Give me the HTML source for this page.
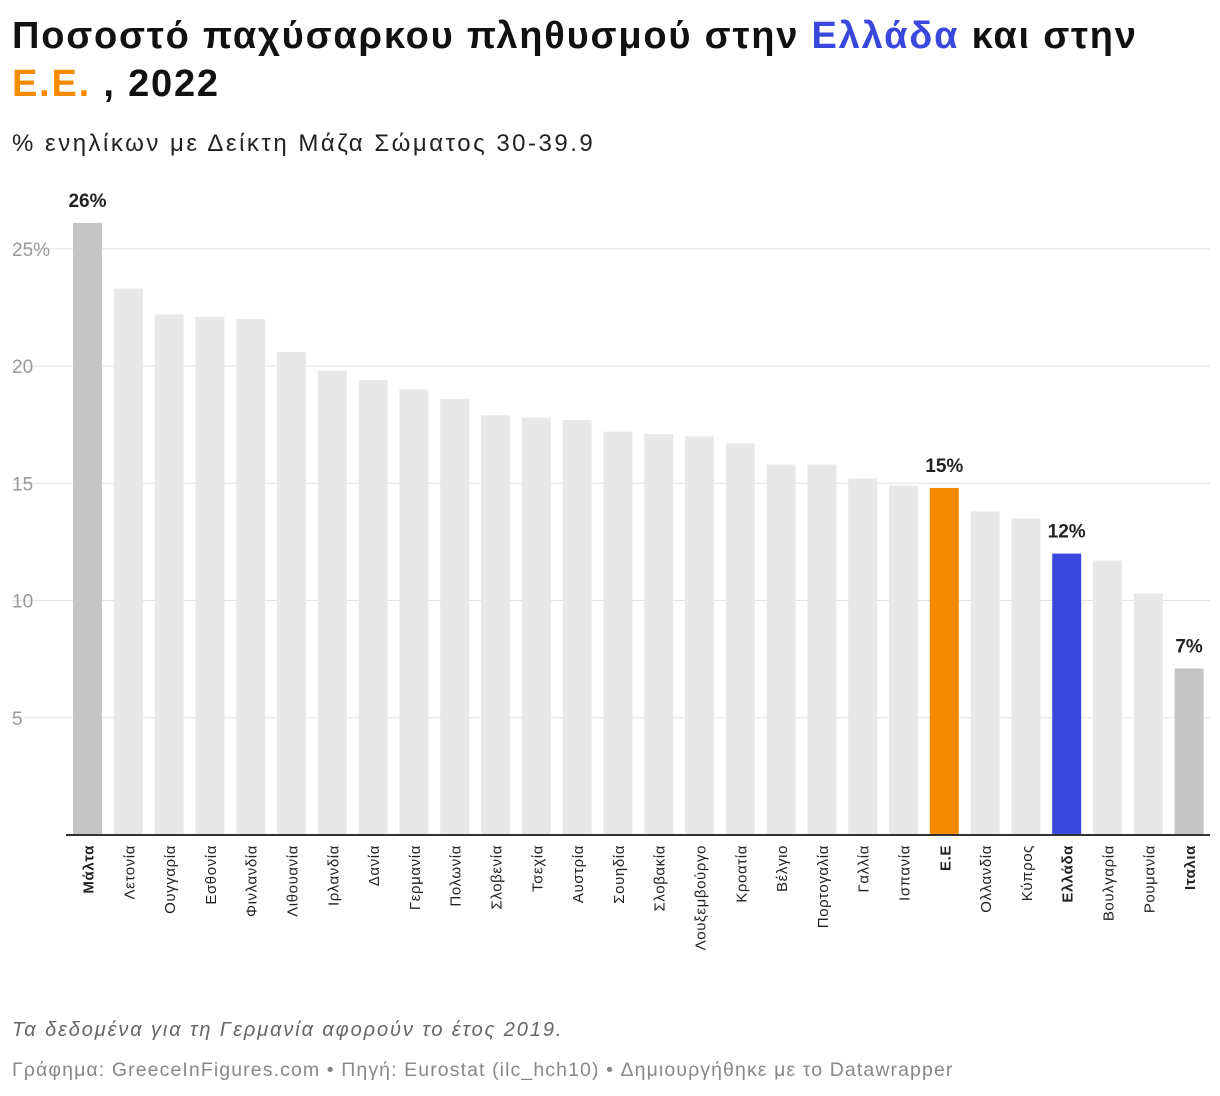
<!DOCTYPE html>
<html><head><meta charset="utf-8"><style>
body{margin:0;background:#fff;font-family:"Liberation Sans",sans-serif;}
.t{position:absolute;left:12px;top:12px;font-size:38px;font-weight:bold;line-height:48px;color:#111;width:1210px;letter-spacing:1.8px;white-space:nowrap}
.s{position:absolute;left:12px;top:130px;font-size:24px;color:#222;letter-spacing:2.5px}
.n{position:absolute;left:12px;top:1019px;font-size:20px;font-style:italic;color:#666;letter-spacing:1.9px}
.f{position:absolute;left:12px;top:1059px;font-size:19.5px;color:#888;letter-spacing:1.1px}
</style></head><body>
<div class="t">Ποσοστό παχύσαρκου πληθυσμού στην <span style="color:#3a47dc">Ελλάδα</span> και στην<br><span style="color:#f68b00">Ε.Ε.</span> , 2022</div>
<div class="s">% ενηλίκων με Δείκτη Μάζα Σώματος 30-39.9</div>
<svg id="c" width="1220" height="1096" style="position:absolute;left:0;top:0"></svg>
<div class="n">Τα δεδομένα για τη Γερμανία αφορούν το έτος 2019.</div>
<div class="f">Γράφημα: GreeceInFigures.com • Πηγή: Eurostat (ilc_hch10) • Δημιουργήθηκε με το Datawrapper</div>
<script>
const categories=["Μάλτα","Λετονία","Ουγγαρία","Εσθονία","Φινλανδία","Λιθουανία","Ιρλανδία","Δανία","Γερμανία","Πολωνία","Σλοβενία","Τσεχία","Αυστρία","Σουηδία","Σλοβακία","Λουξεμβούργο","Κροατία","Βέλγιο","Πορτογαλία","Γαλλία","Ισπανία","Ε.Ε","Ολλανδία","Κύπρος","Ελλάδα","Βουλγαρία","Ρουμανία","Ιταλια"];
const values=[26.1,23.3,22.2,22.1,22.0,20.6,19.8,19.4,19.0,18.6,17.9,17.8,17.7,17.2,17.1,17.0,16.7,15.8,15.8,15.2,14.9,14.8,13.8,13.5,12.0,11.7,10.3,7.1];
const yTicks=[5,10,15,20,25];
const yTickLabels=["5","10","15","20","25%"];
const highlight={"Μάλτα":"#c4c4c4","Ιταλια":"#c4c4c4","Ε.Ε":"#f68b00","Ελλάδα":"#3a47dc"};
const labelled={"Μάλτα":"26%","Ε.Ε":"15%","Ελλάδα":"12%","Ιταλια":"7%"};
const svg=document.getElementById('c');const NS="http://www.w3.org/2000/svg";
const y0=835,ppu=23.45,x0=73,pitch=40.8,bw=29;
const y=v=>y0-v*ppu, x=i=>x0+i*pitch;
function mk(t,a){const e=document.createElementNS(NS,t);for(const k in a)e.setAttribute(k,a[k]);svg.appendChild(e);return e;}
yTicks.forEach((t,i)=>{
 const l=mk('line',{x1:12,x2:1210,y1:y(t),y2:y(t),stroke:'#e2e2e2'});
 
 
 const tx=mk('text',{x:12,y:y(t)+7,'font-size':19,fill:'#999'});tx.textContent=yTickLabels[i];
 
 
});
categories.forEach((c,i)=>{
 const b=mk('rect',{x:x(i),y:y(values[i]),width:bw,height:values[i]*ppu,fill:highlight[c]||'#e8e8e8'});
 
 
 const cx=x(i)+bw/2;
 const bold=highlight[c]?'bold':'normal';
 const t=mk('text',{x:0,y:0,transform:`translate(${cx+6},845) rotate(-90)`,'text-anchor':'end','font-size':15,'font-weight':bold,fill:'#222','letter-spacing':0.6});
 t.textContent=c;
 
 
 if(labelled[c]){const v=mk('text',{x:cx,y:y(values[i])-16,'text-anchor':'middle','font-size':19,'font-weight':'bold',fill:'#222'});v.textContent=labelled[c];
 
 }
});
const ax=mk('line',{x1:66,x2:1210,y1:y0,y2:y0,stroke:'#333','stroke-width':2});


</script>
</body></html>
